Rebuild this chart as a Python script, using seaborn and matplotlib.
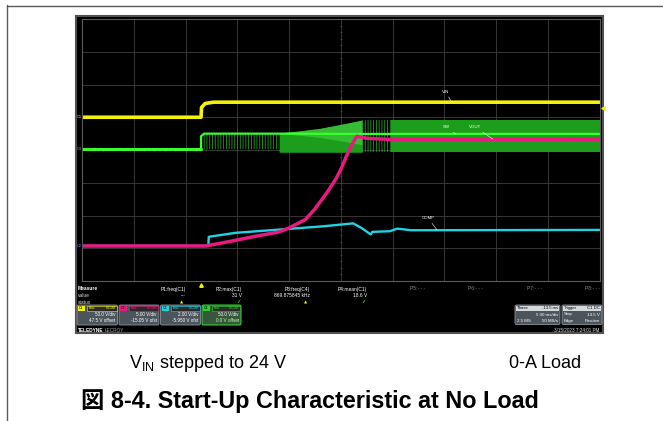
import numpy as np
import pandas as pd
import matplotlib.pyplot as plt
from matplotlib.patches import Rectangle, FancyBboxPatch
import seaborn as sns

# scope capture: time in ms (trigger = 0), amplitude in screen divisions (0 = bottom)
vin_t = [-11.5, 0.0, 0.05, 0.4, 1.2, 38.5]
vin_v = [5.00, 5.00, 5.30, 5.42, 5.46, 5.46]

sw_off_t = [-11.5, 0.0]
sw_off_v = [4.03, 4.03]
sw_line_t = [0.0, 0.0, 0.3, 7.5, 15.5, 38.5]
sw_line_v = [4.03, 4.42, 4.50, 4.50, 4.49, 4.49]
sw_env_t = [7.55, 9.5, 11.5, 13.5, 15.55]
sw_env_top = [4.52, 4.58, 4.66, 4.78, 4.91]
sw_wedge_low = [4.50, 4.45, 4.38, 4.28, 4.16]
sw_low = 3.93
sw_high = 4.91
sw_burst1_t = [0.1, 7.55]
sw_burst1_v = [4.03, 4.50]
sw_burst2_t = [15.55, 18.4]
sw_full_t = [18.4, 38.5]

vout_t = [-11.5, 0.45, 3.0, 5.0, 7.55, 8.5, 10.1, 11.0, 12.15, 13.0, 13.5,
          14.0, 14.5, 15.05, 16.0, 18.4, 38.5]
vout_v = [1.07, 1.07, 1.22, 1.35, 1.50, 1.62, 1.88, 2.20, 2.69, 3.10, 3.40,
          3.78, 4.12, 4.42, 4.36, 4.32, 4.33]

comp_t = [-11.5, 0.7, 0.75, 3.3, 7.55, 11.8, 14.7, 15.5, 16.4, 16.55, 18.25,
          18.95, 20.3, 38.5]
comp_v = [1.07, 1.07, 1.35, 1.47, 1.57, 1.67, 1.76, 1.62, 1.42, 1.50, 1.52,
          1.60, 1.55, 1.56]

trace_labels = ["VIN", "SW", "VOUT", "COMP"]
label_xy = [(23.3, 5.72), (23.4, 4.64), (25.9, 4.64), (21.3, 1.86)]
label_tip = [(24.2, 5.46), (24.6, 4.49), (28.2, 4.33), (22.8, 1.56)]

meas_names = ["P1:freq(C1)", "P2:max(C1)", "P3:freq(C4)", "P4:mean(C1)",
              "P5:- - -", "P6:- - -", "P7:- - -", "P8:- - -"]
meas_values = ["---", "31 V", "869.875845 kHz", "18.6 V", "", "", "", ""]
meas_status = ["warn", "ok", "warn", "ok", "", "", "", ""]

ch_names = ["C1", "C2", "C3", "C4"]
ch_vdiv = ["50.0 V/div", "5.00 V/div", "2.00 V/div", "50.0 V/div"]
ch_offset = ["47.5 V offset", "-15.05 V ofst", "-5.950 V ofst", "0.0 V offset"]

YEL, GRN, GRN_D, MAG, CYA = "#f4f20c", "#39ff2e", "#1c9e1c", "#e8197f", "#1fd4e2"
ch_colors = [YEL, MAG, CYA, "#2bd42b"]

sns.set_theme(style="white")
plt.rcParams["font.family"] = ["Liberation Sans", "DejaVu Sans", "Noto Sans CJK JP"]
plt.rcParams["mathtext.fontset"] = "custom"
plt.rcParams["mathtext.rm"] = "Liberation Sans"
plt.rcParams["hatch.linewidth"] = 0.6

W, H = 663, 421
fig = plt.figure(figsize=(W / 100, H / 100), dpi=100, facecolor="white")

# page overlay in pixel coordinates
ov = fig.add_axes([0, 0, 1, 1])
ov.set_xlim(0, W)
ov.set_ylim(H, 0)
ov.axis("off")
ov.plot([7, 663], [5.5, 5.5], color="#5a5a5a", lw=1.0)
ov.plot([7, 7], [5, 421], color="#5a5a5a", lw=1.0)
ov.add_patch(Rectangle((76, 16), 527, 317, facecolor="black", edgecolor="#505050", lw=1.5))

# measurement rows
small = 3.5
ov.text(78, 289, "Measure", color="white", fontsize=small, fontweight="bold", va="center")
ov.text(78, 295.5, "value", color="#d8d8d8", fontsize=small, va="center")
ov.text(78, 302, "status", color="#d8d8d8", fontsize=small, va="center")
meas_right = [186, 242, 310, 367, 425, 483, 542, 600]
for i, name in enumerate(meas_names):
    xr = meas_right[i]
    col = "white" if meas_values[i] else "#8a8a8a"
    ov.text(xr, 289, name, color=col, fontsize=small, ha="right", va="center")
    if meas_values[i]:
        ov.text(xr, 295.5, meas_values[i], color="white", fontsize=small, ha="right", va="center")
    if meas_status[i] == "warn":
        ov.text(xr - 4, 302, "\u25B2", color=YEL, fontsize=3, ha="center", va="center",
                family="DejaVu Sans")
    elif meas_status[i] == "ok":
        ov.text(xr - 4, 302, "\u2713", color="#3cff3c", fontsize=4, ha="center", va="center",
                family="DejaVu Sans", fontweight="bold")

# channel boxes
box_x = [(77, 117.5), (119, 159), (160.5, 200.5), (202, 241)]
for i, (x0, x1) in enumerate(box_x):
    fc = "#38563c" if i == 3 else "#4c545c"
    ec = "#3cff3c" if i == 3 else "#8b939b"
    ov.add_patch(FancyBboxPatch((x0, 305), x1 - x0, 20,
                                boxstyle="round,pad=0,rounding_size=1.5",
                                facecolor=fc, edgecolor=ec, lw=0.6))
    ov.add_patch(Rectangle((x0 + 1, 305.8), 7, 5, facecolor=ch_colors[i], lw=0))
    ov.text(x0 + 4.5, 308.4, ch_names[i], color="black", fontsize=2.6, ha="center", va="center")
    ov.add_patch(Rectangle((x0 + 10, 305.8), x1 - x0 - 11, 5, facecolor="#2a2a2a",
                           edgecolor=ch_colors[i], lw=0.4))
    ov.text(x0 + 12, 308.4, "BwL", color=ch_colors[i], fontsize=2.6, va="center")
    ov.text(x1 - 2, 308.4, "DC1M", color=ch_colors[i], fontsize=2.6, ha="right", va="center")
    ov.text(x1 - 2, 314.5, ch_vdiv[i], color="white", fontsize=3.3, ha="right", va="center")
    ov.text(x1 - 2, 320.8, ch_offset[i], color="#b8ffb0" if i == 3 else "white",
            fontsize=3.3, ha="right", va="center")

ov.text(78, 330.5, "TELEDYNE", color="white", fontsize=3.4, fontweight="bold", va="center")
ov.text(105, 330.5, "LECROY", color="#a0a0a0", fontsize=3.4, va="center")

# timebase / trigger boxes
for x0, x1, head, head_r, rows in [
        (515, 560, "Tbase", "-13.5 ms", [("", "5.00 ms/div"), ("2.5 MS", "50 MS/s")]),
        (562, 602, "Trigger", "C1 DC", [("Stop", "14.5 V"), ("Edge", "Positive")])]:
    ov.add_patch(FancyBboxPatch((x0, 305), x1 - x0, 19.5,
                                boxstyle="round,pad=0,rounding_size=1.5",
                                facecolor="#4c545c", edgecolor="#8b939b", lw=0.6))
    ov.add_patch(Rectangle((x0 + 0.8, 305.8), x1 - x0 - 1.6, 5.2, facecolor="#d4d8dc", lw=0))
    ov.text(x0 + 2, 308.4, head, color="black", fontsize=3.1, va="center")
    ov.text(x1 - 2, 308.4, head_r, color="black", fontsize=3.1, ha="right", va="center")
    for k, (lt, rt) in enumerate(rows):
        yy = 314.5 + 6.3 * k
        ov.text(x0 + 2, yy, lt, color="white", fontsize=3.2, va="center")
        ov.text(x1 - 2, yy, rt, color="white", fontsize=3.2, ha="right", va="center")
ov.text(599, 330.5, "3/15/2023 7:24:01 PM", color="#d8d8d8", fontsize=3.3, ha="right", va="center")

# captions
ov.text(129, 367.5, r"V$_{\mathrm{IN}}$ stepped to 24 V", fontsize=13, color="black")
ov.text(509, 367.5, "0-A Load", fontsize=13, color="black")
ov.text(81, 407.7, "図 8-4. Start-Up Characteristic at No Load", fontsize=16.8,
        fontweight="bold", color="black",
        family=["Liberation Sans", "Noto Sans CJK JP"])

# scope grid
ax = fig.add_axes([82 / W, 1 - 281 / H, (599.5 - 82) / W, (281 - 19) / H])
ax.set_facecolor("black")
ax.set_xlim(-11.5, 38.5)
ax.set_ylim(0, 8)
ax.set_xticks(np.arange(-11.5, 38.6, 5))
ax.set_yticks(np.arange(0, 8.1, 1))
ax.tick_params(length=0, labelbottom=False, labelleft=False)
ax.grid(True, color="#363636", lw=0.7)
for s in ax.spines.values():
    s.set_color("#5a5a5a")
    s.set_linewidth(0.8)
ax.scatter(np.arange(-11.5, 38.6, 1), np.full(51, 4.0), marker="|", s=4, color="#505050", lw=0.5)
ax.scatter(np.full(41, 13.5), np.arange(0, 8.01, 0.2), marker="_", s=4, color="#505050", lw=0.5)

# SW channel: switching envelopes
ax.fill_between(sw_burst1_t, sw_burst1_v[0], sw_burst1_v[1], facecolor="none",
                edgecolor=GRN_D, hatch="||||||", lw=0)
ax.fill_between(sw_env_t, sw_low, sw_env_top, color=GRN_D, lw=0)
ax.fill_between(sw_env_t, sw_wedge_low, sw_env_top, color="#34bc34", lw=0)
ax.fill_between(sw_burst2_t, sw_low, sw_high, facecolor="none",
                edgecolor=GRN_D, hatch="||||||", lw=0)
ax.fill_between(sw_full_t, sw_low, sw_high, color=GRN_D, lw=0)

sns.lineplot(x=vin_t, y=vin_v, ax=ax, color=YEL, lw=2.6, estimator=None, sort=False)
sns.lineplot(x=sw_off_t, y=sw_off_v, ax=ax, color=GRN, lw=2.2, estimator=None, sort=False)
sns.lineplot(x=sw_line_t, y=sw_line_v, ax=ax, color=GRN, lw=1.6, estimator=None, sort=False)
sns.lineplot(x=comp_t, y=comp_v, ax=ax, color=CYA, lw=1.7, estimator=None, sort=False)
sns.lineplot(x=vout_t, y=vout_v, ax=ax, color=MAG, lw=2.5, estimator=None, sort=False)

for lab, (tx, ty), (px, py) in zip(trace_labels, label_xy, label_tip):
    ax.annotate(lab, xy=(px, py), xytext=(tx, ty), color="white", fontsize=3.2,
                ha="left", va="bottom",
                arrowprops=dict(arrowstyle="-", color="white", lw=0.4, shrinkA=0, shrinkB=0))

# channel markers and trigger markers
for name, lvl, col in [("C1", 5.0, YEL), ("C4", 4.03, "#2bd42b"), ("C2", 1.07, "#8080ff")]:
    ax.text(-11.55, lvl, name, color=col, fontsize=2.8, ha="right", va="center", clip_on=False)
ax.plot([0], [-0.12], marker="^", color=YEL, ms=2.5, clip_on=False)
ax.plot([38.85], [5.28], marker="<", color=YEL, ms=2.5, clip_on=False)

fig.savefig("out.png", dpi=100, facecolor="white")
